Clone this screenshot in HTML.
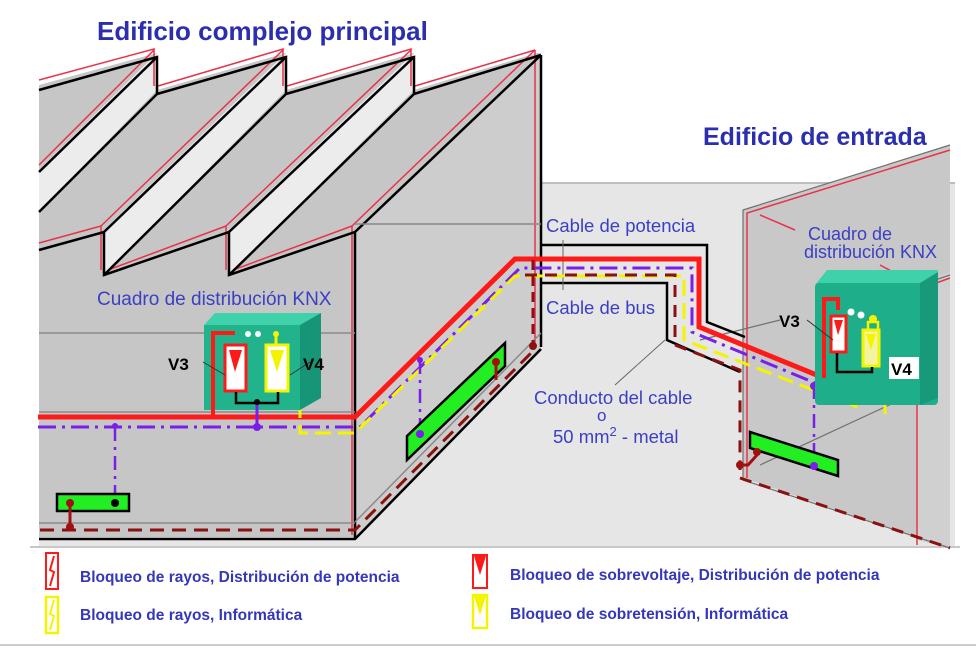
<!DOCTYPE html>
<html><head><meta charset="utf-8"><style>
html,body{margin:0;padding:0;background:#fff;}
svg{display:block;}
text{font-family:"Liberation Sans",Arial,sans-serif;}
</style></head><body>
<svg width="976" height="649" viewBox="0 0 976 649" xmlns="http://www.w3.org/2000/svg">
<rect width="976" height="649" fill="#fff"/>
<!-- ground -->
<polygon points="541,183 955,183 955,548 39,548 39,537 355,537 541,347" fill="#e6e6e6"/>
<line x1="541" y1="183" x2="955" y2="183" stroke="#bdbdbd" stroke-width="2"/>
<line x1="30" y1="547" x2="960" y2="547" stroke="#c8c8c8" stroke-width="2"/>

<!-- main building -->
<polygon points="39,85 157,53 157,90 286,53 286,90 414,53 414,90 537,53 541,53 541,347 355,537 39,537" fill="#c6c6c6"/>
<polygon points="355,230 541,53 541,347 355,537" fill="#cdcdcd"/>
<polygon points="157,53 157,90 39,212 39,170" fill="#ececec"/>
<polygon points="286,53 286,90 104,275 104,230" fill="#ececec"/>
<polygon points="414,53 414,90 229,275 229,230" fill="#ececec"/>
<g stroke="#e8324a" stroke-width="1.5" fill="none">
<polyline points="39,80 154,49 154,86"/>
<polyline points="158,86 283,49 283,86"/>
<polyline points="287,86 411,49 411,86"/>
<polyline points="415,86 535,50"/>
<line x1="154" y1="50" x2="39" y2="165"/>
<line x1="283" y1="50" x2="101" y2="226"/>
<line x1="411" y1="50" x2="226" y2="226"/>
<line x1="535" y1="50" x2="352" y2="226"/>
<polyline points="39,243 101,226 101,270"/>
<polyline points="108,270 226,226 226,270"/>
<polyline points="233,270 352,226"/>
<line x1="352" y1="226" x2="352" y2="535"/>
<line x1="535" y1="50" x2="535" y2="345"/>
</g>
<g stroke="#000" stroke-width="2.5" fill="none">
<polyline points="39,90 157,57 157,94"/>
<polyline points="157,94 286,57 286,94"/>
<polyline points="286,94 414,57 414,94"/>
<polyline points="414,94 541,55"/>
<line x1="157" y1="57" x2="39" y2="172"/>
<line x1="157" y1="94" x2="39" y2="212"/>
<line x1="286" y1="57" x2="104" y2="232"/>
<line x1="286" y1="94" x2="104" y2="275"/>
<line x1="414" y1="57" x2="229" y2="232"/>
<line x1="414" y1="94" x2="229" y2="275"/>
<line x1="541" y1="55" x2="355" y2="232"/>
<polyline points="39,250 104,232 104,275 229,232 229,275 355,232 355,539"/>
<line x1="541" y1="55" x2="541" y2="347"/>
<polyline points="39,539 355,539 541,349"/>
</g>
<g stroke="#8a8a8a" stroke-width="1.5">
<line x1="39" y1="333" x2="355" y2="333"/>
<line x1="39" y1="412" x2="355" y2="412"/>
<line x1="39" y1="523" x2="355" y2="523"/>
<line x1="355" y1="224" x2="541" y2="224"/>
<line x1="355" y1="522" x2="541" y2="333"/>
</g>

<!-- entrance building -->
<polygon points="743,210 950,145 950,548 743,478" fill="#c8c8c8"/>
<polygon points="917,283 950,272 950,548 917,540" fill="#d0d0d0"/>
<g stroke="#e8324a" stroke-width="1.5" fill="none">
<polyline points="747,478 747,213 950,150"/>
<line x1="917" y1="290" x2="917" y2="545"/>
<line x1="917" y1="290" x2="950" y2="278"/>
<line x1="760" y1="215" x2="795" y2="230"/>
<line x1="880" y1="265" x2="917" y2="285"/>
</g>
<g stroke="#707070" stroke-width="1.2" fill="none">
<polyline points="743,478 743,210 950,145"/>
<line x1="743" y1="480" x2="950" y2="548"/>
<line x1="920" y1="285" x2="950" y2="275"/>
<line x1="760" y1="465" x2="900" y2="400"/>
<line x1="700" y1="340" x2="780" y2="320"/>
</g>

<!-- conduit outlines -->
<g stroke="#000" stroke-width="2.5" fill="none">
<polyline points="541,245 707,245 707,322 745,337"/>
<polyline points="541,283 667,283 667,340 740,372"/>
</g>
<g stroke="#666" stroke-width="1">
<line x1="563" y1="240" x2="563" y2="290"/>
<line x1="665" y1="340" x2="615" y2="385"/>
</g>

<!-- cables -->
<polyline points="38,417 355,417 515,259 699,259 699,327 824,378 824,299 838,299 838,310" fill="none" stroke="#ff1a1a" stroke-width="5"/>
<polyline points="213,417 213,333 235,333 235,345" fill="none" stroke="#ff1a1a" stroke-width="4"/>
<polyline points="38,427 360,427 520,268 692,268 692,332 820,385 848,395 848,400" fill="none" stroke="#7a1ee8" stroke-width="3" stroke-dasharray="18,6,3,6"/>
<polyline points="300,333 300,433 355,433 515,276 684,276 684,340 860,408" fill="none" stroke="#f4f400" stroke-width="3" stroke-dasharray="16,7"/>
<polyline points="40,530 355,530 535,349" fill="none" stroke="#8b1010" stroke-width="3" stroke-dasharray="14,8"/>
<polyline points="525,275 675,275 675,345 740,370 740,470" fill="none" stroke="#8b1010" stroke-width="3" stroke-dasharray="12,8"/>
<polyline points="740,478 950,548" fill="none" stroke="#8b1010" stroke-width="3" stroke-dasharray="12,8"/>
<line x1="533" y1="260" x2="533" y2="345" stroke="#8b1010" stroke-width="3" stroke-dasharray="10,6"/>
<circle cx="533" cy="346" r="4" fill="#8b1010"/>
<line x1="115" y1="427" x2="115" y2="503" stroke="#7a1ee8" stroke-width="2.5" stroke-dasharray="14,6,3,6"/>
<line x1="420" y1="360" x2="420" y2="434" stroke="#7a1ee8" stroke-width="2.5" stroke-dasharray="14,6,3,6"/>
<line x1="814" y1="385" x2="814" y2="466" stroke="#7a1ee8" stroke-width="2.5" stroke-dasharray="14,6,3,6"/>
<circle cx="115" cy="426" r="3" fill="#7a1ee8"/><circle cx="420" cy="360" r="3" fill="#7a1ee8"/><circle cx="814" cy="386" r="4" fill="#7a1ee8"/>
<line x1="885" y1="360" x2="885" y2="420" stroke="#f4f400" stroke-width="3" stroke-dasharray="14,6"/>

<!-- green bars -->
<rect x="57" y="494" width="72" height="17" fill="#22ee22" stroke="#000" stroke-width="2.5"/>
<circle cx="115" cy="503" r="4" fill="#000"/>
<circle cx="70" cy="503" r="4" fill="#a01010"/>
<line x1="70" y1="503" x2="70" y2="527" stroke="#a01010" stroke-width="3"/><circle cx="70" cy="527" r="4" fill="#a01010"/>
<polygon points="407,436 505,343 505,366 407,460" fill="#22ee22" stroke="#000" stroke-width="2.5"/>
<circle cx="420" cy="434" r="4" fill="#7a1ee8"/>
<circle cx="496" cy="362" r="4" fill="#a01010"/><line x1="496" y1="362" x2="496" y2="380" stroke="#a01010" stroke-width="3"/>
<polygon points="750,432 838,460 838,476 750,448" fill="#22ee22" stroke="#000" stroke-width="2.5"/>
<circle cx="814" cy="466" r="4" fill="#7a1ee8"/>
<polyline points="740,465 748,465 757,455" fill="none" stroke="#a01010" stroke-width="3"/><circle cx="757" cy="452" r="4" fill="#a01010"/><circle cx="740" cy="465" r="4" fill="#a01010"/>

<!-- left KNX box -->
<polygon points="204,325 215,313 321,313 310,325" fill="#3fd1a9"/>
<polygon points="300,325 321,313 321,398 300,410" fill="#179577"/>
<rect x="204" y="325" width="96" height="85" fill="#21b48c"/>
<polyline points="213,417 213,333 235,333" fill="none" stroke="#ff1a1a" stroke-width="4"/>
<circle cx="248" cy="334" r="3" fill="#fff"/><circle cx="258" cy="334" r="3" fill="#fff"/><circle cx="276" cy="334" r="3" fill="#f4f400"/>
<polyline points="276,334 276,345" stroke="#f4f400" stroke-width="3"/>
<rect x="225" y="345" width="21" height="46" fill="#fff" stroke="#ff1a1a" stroke-width="3"/>
<polygon points="229,350 242,350 235,372" fill="#ff1a1a"/>
<rect x="266" y="345" width="22" height="46" fill="#fff" stroke="#f4f400" stroke-width="3"/>
<polygon points="270,350 284,350 277,372" fill="#f4f400"/>
<polyline points="236,392 236,403 278,403 278,392" fill="none" stroke="#000" stroke-width="2.5"/>
<line x1="257" y1="403" x2="257" y2="427" stroke="#7a1ee8" stroke-width="3"/><circle cx="257" cy="402" r="3" fill="#000"/><circle cx="257" cy="427" r="4" fill="#7a1ee8"/>
<line x1="203" y1="362" x2="225" y2="375" stroke="#333" stroke-width="1"/>
<line x1="290" y1="375" x2="310" y2="362" stroke="#333" stroke-width="1"/>

<!-- right KNX box -->
<polygon points="815,285 827,270 938,270 938,285" fill="#3fd1a9"/>
<rect x="815" y="283" width="123" height="122" rx="4" fill="#1fae8a"/>
<polygon points="920,283 938,272 938,398 920,405" fill="#189a7a"/>
<polyline points="824,378 824,299 838,299 838,310" fill="none" stroke="#ff1a1a" stroke-width="4"/>
<circle cx="851" cy="312" r="3.5" fill="#fff"/><circle cx="861" cy="315" r="3.5" fill="#fff"/><circle cx="873" cy="319" r="4" fill="#f4f400"/>
<polyline points="868,335 868,322 878,322 878,340" fill="none" stroke="#f4f400" stroke-width="2.5"/>
<rect x="831" y="316" width="15" height="36" fill="#fff" stroke="#ff1a1a" stroke-width="3"/>
<polygon points="834,320 843,320 838,335" fill="#ff1a1a"/>
<rect x="863" y="330" width="16" height="36" fill="#f4f4a0" stroke="#f4f400" stroke-width="3"/>
<polygon points="866,334 876,334 871,350" fill="#f4f400"/>
<polyline points="837,353 837,372 872,372 872,367" fill="none" stroke="#000" stroke-width="2.5"/>
<rect x="889" y="357" width="30" height="22" fill="#fff"/>
<text x="891" y="375" font-size="17" font-weight="bold" fill="#000">V4</text>
<line x1="807" y1="320" x2="833" y2="340" stroke="#333" stroke-width="1"/>

<!-- labels -->
<text x="97" y="40" font-size="26" font-weight="bold" fill="#2b2fae">Edificio complejo principal</text>
<text x="703" y="145" font-size="25" font-weight="bold" fill="#2b2fae">Edificio de entrada</text>
<text x="97" y="305" font-size="19" fill="#3b3fc4">Cuadro de distribución KNX</text>
<text x="168" y="370" font-size="17" font-weight="bold" fill="#000">V3</text>
<text x="303" y="370" font-size="17" font-weight="bold" fill="#000">V4</text>
<text x="779" y="327" font-size="17" font-weight="bold" fill="#000">V3</text>
<text x="546" y="232" font-size="18.5" fill="#3b3fc4">Cable de potencia</text>
<text x="546" y="314" font-size="18.5" fill="#3b3fc4">Cable de bus</text>
<text x="534" y="404" font-size="18.5" fill="#3b3fc4">Conducto del cable</text>
<text x="597" y="421" font-size="17" fill="#3b3fc4">o</text>
<text x="553" y="443" font-size="18.5" fill="#3b3fc4">50 mm<tspan font-size="13" dy="-7">2</tspan><tspan dy="7"> - metal</tspan></text>
<text x="808" y="240" font-size="18" fill="#3b3fc4">Cuadro de</text>
<text x="804" y="258" font-size="18" fill="#3b3fc4">distribución KNX</text>

<!-- legend -->
<rect x="46" y="553" width="12" height="36" fill="#fff" stroke="#ff1a1a" stroke-width="2"/>
<polyline points="54,556 50,570 54,572 50,586" fill="none" stroke="#ff1a1a" stroke-width="2"/>
<rect x="46" y="597" width="12" height="36" fill="#fff" stroke="#f4f400" stroke-width="2.5"/>
<polyline points="54,600 50,614 54,616 50,630" fill="none" stroke="#f4f400" stroke-width="2"/>
<text x="80" y="582" font-size="15.5" font-weight="bold" fill="#3438b8">Bloqueo de rayos, Distribución de potencia</text>
<text x="80" y="620" font-size="15.5" font-weight="bold" fill="#3438b8">Bloqueo de rayos, Informática</text>
<rect x="473" y="555" width="14" height="33" fill="#fff" stroke="#ff1a1a" stroke-width="2"/>
<polygon points="474,556 486,556 480,575" fill="#ff1a1a"/>
<rect x="473" y="595" width="14" height="33" fill="#fff" stroke="#f4f400" stroke-width="2.5"/>
<polygon points="474,596 486,596 480,615" fill="#f4f400"/>
<text x="510" y="580" font-size="15.5" font-weight="bold" fill="#3438b8">Bloqueo de sobrevoltaje, Distribución de potencia</text>
<text x="510" y="619" font-size="15.5" font-weight="bold" fill="#3438b8">Bloqueo de sobretensión, Informática</text>
<line x1="0" y1="645" x2="976" y2="645" stroke="#ccc" stroke-width="2"/>
</svg>
</body></html>
